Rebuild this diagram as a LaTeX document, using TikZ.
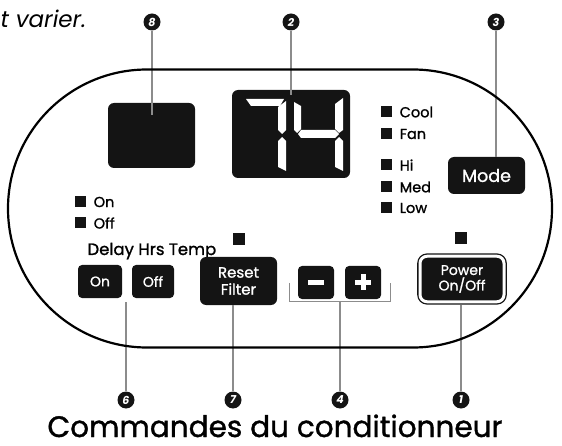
\documentclass[tikz,border=0pt]{standalone}
\usepackage{fontspec}
\setmainfont{Poppins}
\newfontfamily\medfont{Poppins}[FakeBold=1.2]
\usetikzlibrary{positioning}

\begin{document}
\begin{tikzpicture}[x=1pt, y=-1pt,
  key/.style={rectangle, rounded corners=4pt, fill=black!92, text=white, inner sep=0pt, align=center},
  led/.style={rectangle, fill=black!92, minimum size=11pt, inner sep=0pt},
  ledtext/.style={font=\fontsize{14.5}{14.5}\selectfont\medfont, label distance=4.5pt},
  callout/.style={circle, fill=black!92, text=white, inner sep=0pt, minimum size=17pt, font=\fontsize{11}{11}\selectfont\bfseries\itshape},
  leader/.style={black!45, line width=1.2pt},
  seg/.style={fill=white}
]
\useasboundingbox (0,0) rectangle (562,446);

\node[anchor=base west, font=\fontsize{23}{23}\selectfont\itshape] (note) at (-3,28) {t varier.};

% displays
\node[key, rounded corners=6pt, minimum width=87pt, minimum height=65pt] (clock) at (151.5,135.5) {};
\node[key, rounded corners=6pt, minimum width=118pt, minimum height=88pt] (temp) at (291,134) {};
\fill[seg] (246,99) -- (284,99) -- (280,106) -- (251,106) -- cycle;
\fill[seg] (286,101) -- (286,130) -- (282,134) -- (278,130) -- (278,107) -- cycle;
\fill[seg] (282,137) -- (286,141) -- (286,171) -- (278,167) -- (278,141) -- cycle;
\fill[seg] (294,102) -- (301,106) -- (301,129) -- (297,133) -- (294,130) -- cycle;
\fill[seg] (301,130) -- (335,130) -- (339,134) -- (335,138) -- (301,138) -- (298,134) -- cycle;
\fill[seg] (343,98) -- (343,130) -- (339,133) -- (335,129) -- (335,104) -- cycle;
\fill[seg] (339,137) -- (343,141) -- (343,171) -- (335,167) -- (335,141) -- cycle;

% indicator lights
\node[led, label={[ledtext]right:Cool}] (cool) at (386,112) {};
\node[led, label={[ledtext]right:Fan}] (fan) at (386,134) {};
\node[led, label={[ledtext]right:Hi}] (hi) at (386,165) {};
\node[led, label={[ledtext]right:Med}] (med) at (386,187) {};
\node[led, label={[ledtext]right:Low}] (low) at (386,208) {};
\node[led, label={[ledtext]right:On}] (ledon) at (80,202) {};
\node[led, label={[ledtext]right:Off}] (ledoff) at (80,223) {};
\node[led, minimum size=12pt] (ledreset) at (239,239) {};
\node[led, minimum size=12pt] (ledpower) at (461,238.5) {};

% keys
\node[anchor=base west, font=\fontsize{16.5}{16.5}\selectfont\medfont] (delay) at (84,255) {Delay Hrs Temp};
\node[key, minimum width=44pt, minimum height=33pt, font=\fontsize{14}{14}\selectfont\medfont] (onkey) at (100,281.5) {On};
\node[key, minimum width=42pt, minimum height=33pt, font=\fontsize{14}{14}\selectfont\medfont] (offkey) at (153,281.5) {Off};
\node[key, rounded corners=6pt, minimum width=77pt, minimum height=48pt, font=\fontsize{15}{17}\selectfont\medfont] (reset) at (238.5,281) {Reset\\Filter};
\node[key, minimum width=36pt, minimum height=33pt] (minus) at (316,282.5) {};
\node[key, minimum width=36pt, minimum height=33pt] (plus) at (363,282.5) {};
\fill[white] ([xshift=-8pt, yshift=-2.5pt]minus.center) rectangle ([xshift=8pt, yshift=2.5pt]minus.center);
\fill[white] ([xshift=-8pt, yshift=-2.5pt]plus.center) rectangle ([xshift=8pt, yshift=2.5pt]plus.center);
\fill[white] ([xshift=-2.5pt, yshift=-8pt]plus.center) rectangle ([xshift=2.5pt, yshift=8pt]plus.center);
\node[key, rounded corners=6pt, minimum width=77pt, minimum height=37pt, font=\fontsize{17.5}{17.5}\selectfont\medfont] (mode) at (486.5,175.5) {Mode};
\node[key, rounded corners=7pt, minimum width=84pt, minimum height=45.5pt, draw=black!92, line width=1.3pt, double=white, double distance=3pt, font=\fontsize{14}{15.5}\selectfont\medfont] (power) at (462,279) {Power\\On/Off};

% callouts
\node[callout] (c8) at (152,22) {8};
\node[callout] (c2) at (291,22) {2};
\node[callout] (c3) at (496,22) {3};
\node[callout] (c6) at (126,400) {6};
\node[callout] (c7) at (233,400) {7};
\node[callout] (c4) at (340,400) {4};
\node[callout] (c1) at (461,400) {1};

\coordinate (c8end) at (152,115);
\coordinate (c2end) at (291,95);
\coordinate (brl) at (289,301);
\coordinate (brr) at (390,301);

\draw[leader] (c8) -- (c8end);
\draw[leader] (c2) -- (c2end);
\draw[leader] (c3) -- (c3 |- mode.north);
\draw[leader] (c6) -- ([yshift=-4pt]c6 |- onkey.south);
\draw[leader] (c7) -- (c7 |- reset.south);
\draw[leader] (c4) -- (c4 |- brl);
\draw[leader] (c1) -- ([yshift=-3pt]c1 |- power.south);
\draw[leader, line width=1pt] ([yshift=18pt]brl) -- (brl) -- (brr) -- ([yshift=18pt]brr);

% panel outline
\draw[line width=2.2pt] (147,69.5) -- (413,69.5) arc[start angle=-90, end angle=90, radius=139]
  -- (147,347.5) arc[start angle=90, end angle=270, radius=139] -- cycle;

\node[anchor=base, font=\fontsize{29.5}{29.5}\selectfont\medfont] (title) at (275,437) {Commandes du conditionneur};
\end{tikzpicture}
\end{document}
